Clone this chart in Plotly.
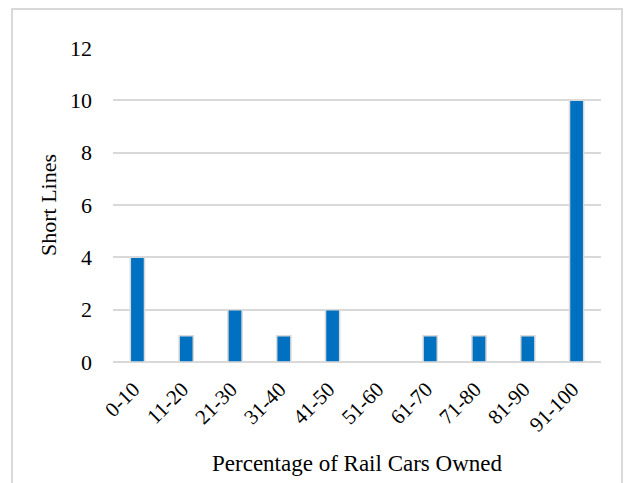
import plotly.graph_objects as go

categories = ["0-10", "11-20", "21-30", "31-40", "41-50", "51-60", "61-70", "71-80", "81-90", "91-100"]
short_lines = [4, 1, 2, 1, 2, 0, 1, 1, 1, 10]
y_ticks = [0, 2, 4, 6, 8, 10, 12]

font = "Liberation Serif"

fig = go.Figure()
fig.add_trace(go.Bar(
    x=categories, y=short_lines,
    marker=dict(color="#0070C0", line=dict(color="#d9d9d9", width=1.5)),
))

W, H = 624, 483
l, r, t, b = 113, 23, 48, 121
pw, ph = W - l - r, H - t - b

def px(x):
    return (x - l) / pw

def py(y):
    return (H - b - y) / ph

fig.add_shape(type="rect", xref="paper", yref="paper",
              x0=px(12), x1=px(622), y0=py(600), y1=py(9),
              line=dict(color="#d9d9d9", width=2), fillcolor="rgba(0,0,0,0)", layer="below")

fig.update_layout(
    width=W, height=H,
    margin=dict(l=l, r=r, t=t, b=b),
    paper_bgcolor="white", plot_bgcolor="white",
    bargap=0.71,
    showlegend=False,
    font=dict(family=font, size=22, color="black"),
    xaxis=dict(
        tickangle=-45, showgrid=False, showline=False, ticks="",
        ticklabelstandoff=10, ticklabelshift=-4,
        title=dict(text="Percentage of Rail Cars Owned", font=dict(family=font, size=23), standoff=19),
        tickfont=dict(family=font, size=21),
    ),
    yaxis=dict(
        range=[0, 12], tickvals=y_ticks, showgrid=True, gridcolor="#d9d9d9", gridwidth=1.5,
        zeroline=True, zerolinecolor="#d9d9d9", zerolinewidth=1.5,
        showline=False, ticks="", ticklabelstandoff=20,
        title=dict(text="Short Lines", font=dict(family=font, size=22), standoff=7),
        tickfont=dict(family=font, size=22),
    ),
)

fig.write_html("out.html")
